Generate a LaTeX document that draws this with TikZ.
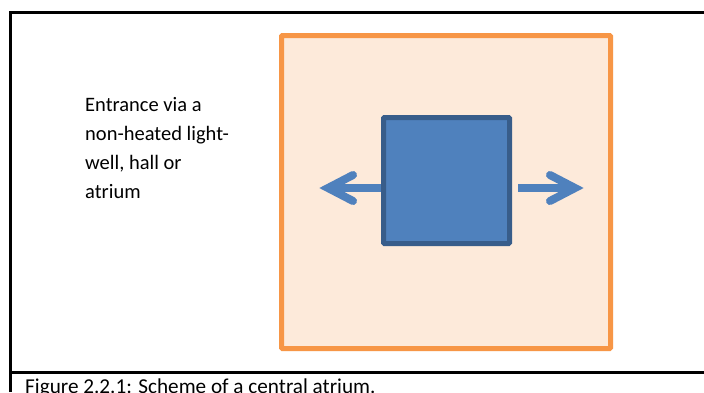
\documentclass[tikz,border=0pt]{standalone}
\usepackage{fontspec}
\setmainfont{Carlito}
\definecolor{frameorange}{HTML}{F79646}
\definecolor{fillorange}{HTML}{FDEADA}
\definecolor{boxblue}{HTML}{4F81BD}
\definecolor{edgeblue}{HTML}{385D8A}
\tikzset{
  framerule/.style={line width=3pt, black},
  outerbox/.style={draw=frameorange, fill=fillorange, line width=5pt, rounded corners=1pt},
  innerbox/.style={draw=edgeblue, fill=boxblue, line width=5pt, rounded corners=1pt},
  shaft/.style={draw=boxblue, line width=8pt},
  chevron/.style={draw=boxblue, line width=8pt, line cap=round, line join=miter},
  label/.style={font=\fontsize{20.5}{29}\selectfont, align=left, inner sep=0pt},
  caption/.style={font=\fontsize{21.2}{25}\selectfont, inner sep=0pt}
}
\begin{document}
\begin{tikzpicture}[x=1pt,y=-1pt]
\useasboundingbox (0,0) rectangle (704,392);
\fill[white] (0,0) rectangle (704,392);
% frame
\draw[framerule] (10,392) -- (10,12) -- (704,12);
\draw[framerule] (10,372) -- (704,372);
% outer square
\node[outerbox, minimum width=329pt, minimum height=313pt, inner sep=0pt] (outer) at (446,192) {};
% inner square
\node[innerbox, minimum width=126pt, minimum height=126pt, inner sep=0pt] (inner) at (446.5,180.5) {};
% arrows
\coordinate (ltip) at (328,188);
\coordinate (rtip) at (575,188);
\coordinate (rstart) at (518,188);
\draw[shaft] (inner.west |- ltip) -- (ltip);
\draw[chevron] ([shift={(25,-13)}]ltip) -- (ltip) -- ([shift={(25,13)}]ltip);
\draw[shaft] (rstart) -- (rtip);
\draw[chevron] ([shift={(-25,-13)}]rtip) -- (rtip) -- ([shift={(-25,13)}]rtip);
% text
\node[label, anchor=north west] (txt) at (85,97.5) {Entrance via a\\non-heated light-\\well, hall or\\atrium};
\node[caption, anchor=base west] (cap) at (25,393) {Figure 2.2.1: Scheme of a central atrium.};
\end{tikzpicture}
\end{document}
